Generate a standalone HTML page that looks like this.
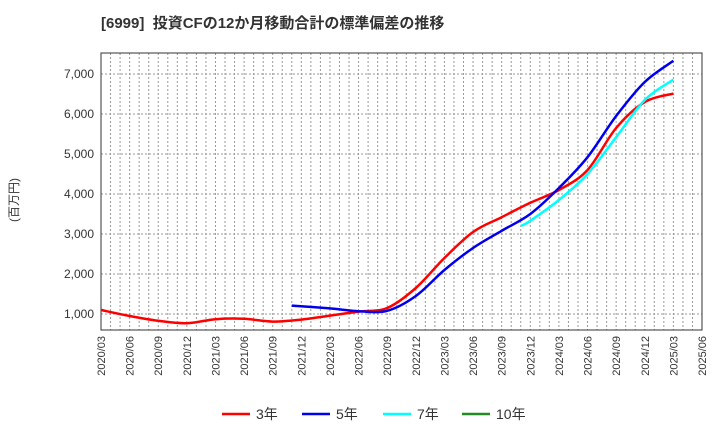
<!DOCTYPE html>
<html><head><meta charset="utf-8"><style>
body{margin:0;background:#fff;font-family:"Liberation Sans","Noto Sans CJK JP",sans-serif;}
svg text{font-family:"Liberation Sans","Noto Sans CJK JP",sans-serif;}
</style></head><body>
<svg id="c" width="720" height="440" xmlns="http://www.w3.org/2000/svg">
<text x="101" y="28" font-size="15" font-weight="bold" fill="#333" xml:space="preserve">[6999]  投資CFの12か月移動合計の標準偏差の推移</text>
<text transform="translate(18,200) rotate(-90)" font-size="12" fill="#333" text-anchor="middle">(百万円)</text>
<g id="grid"></g><g id="axes"></g><g id="series"></g>
<g id="legend"></g>
</svg>
<script>
const yTicks=[1000,2000,3000,4000,5000,6000,7000];
const xTickLabels=["2020/03","2020/06","2020/09","2020/12","2021/03","2021/06","2021/09","2021/12","2022/03","2022/06","2022/09","2022/12","2023/03","2023/06","2023/09","2023/12","2024/03","2024/06","2024/09","2024/12","2025/03","2025/06"];
const dates3=["2020/03","2020/06","2020/09","2020/12","2021/03","2021/06","2021/09","2021/12","2022/03","2022/06","2022/09","2022/12","2023/03","2023/06","2023/09","2023/12","2024/03","2024/06","2024/09","2024/12","2025/03"];
const vals3=[1100,950,830,770,870,880,810,860,960,1060,1150,1650,2400,3050,3420,3780,4100,4600,5650,6300,6510];
const dates5=["2021/11","2022/03","2022/06","2022/09","2022/12","2023/03","2023/06","2023/09","2023/12","2024/03","2024/06","2024/09","2024/12","2025/03"];
const vals5=[1210,1140,1070,1080,1450,2100,2650,3080,3500,4150,4920,5950,6800,7330];
const dates7=["2023/11","2023/12","2024/03","2024/06","2024/09","2024/12","2025/03"];
const vals7=[3200,3330,3850,4500,5420,6350,6860];
const dates10=[];
const vals10=[];
const L=101,R=702,T=53,B=330;
function mIdx(d){const [y,m]=d.split("/").map(Number);return (y-2020)*12+(m-3);}
function X(d){return L+mIdx(d)*(R-L)/63;}
function Y(v){return 314-(v-1000)*0.04;}
const NS="http://www.w3.org/2000/svg";
function mk(t,a,p){const e=document.createElementNS(NS,t);for(const k in a)e.setAttribute(k,a[k]);p.appendChild(e);return e;}
const grid=document.getElementById("grid"),axes=document.getElementById("axes"),ser=document.getElementById("series"),leg=document.getElementById("legend");
for(let m=1;m<63;m++){const x=L+m*(R-L)/63;
const g=mk("line",{x1:x,x2:x,y1:T,y2:B,stroke:"#999","stroke-dasharray":"2,2","stroke-width":1},grid);

}
yTicks.forEach(v=>{const y=Y(v);
const g=mk("line",{x1:L,x2:R,y1:y,y2:y,stroke:"#999","stroke-dasharray":"2,2","stroke-width":1},grid);


const t=mk("text",{x:L-7,y:y+4,"font-size":12,fill:"#333","text-anchor":"end"},axes);t.textContent=v.toLocaleString("en-US");

});
xTickLabels.forEach(d=>{const x=X(d);
const t=mk("text",{transform:`translate(${x+4},336) rotate(-90)`,"font-size":11,fill:"#333","text-anchor":"end"},axes);t.textContent=d;

});
const fr=mk("rect",{x:L,y:T,width:R-L,height:B-T,fill:"none",stroke:"#333","stroke-width":1},axes);


function path(ds,vs){const p=ds.map((d,i)=>[X(d),Y(vs[i])]);if(p.length<2)return "";let s=`M${p[0][0]},${p[0][1]}`;
for(let i=0;i<p.length-1;i++){const p0=p[Math.max(0,i-1)],p1=p[i],p2=p[i+1],p3=p[Math.min(p.length-1,i+2)];
const c1=[p1[0]+(p2[0]-p0[0])/6,p1[1]+(p2[1]-p0[1])/6],c2=[p2[0]-(p3[0]-p1[0])/6,p2[1]-(p3[1]-p1[1])/6];
s+=`C${c1[0]},${c1[1]} ${c2[0]},${c2[1]} ${p2[0]},${p2[1]}`;}return s;}
const S=[[dates3,vals3,"#ff0000","3年","series-3yr"],[dates5,vals5,"#0000ee","5年","series-5yr"],[dates7,vals7,"#00ffff","7年","series-7yr"],[dates10,vals10,"#228b22","10年","series-10yr"]];
const lx=[222,302,383,462];
S.forEach((s,i)=>{if(s[0].length>1){const e=mk("path",{d:path(s[0],s[1]),fill:"none",stroke:s[2],"stroke-width":2.5},ser);

}
const l=mk("line",{x1:lx[i],x2:lx[i]+28,y1:414,y2:414,stroke:s[2],"stroke-width":2.5},leg);


const t=mk("text",{x:lx[i]+34,y:419,"font-size":14,fill:"#333"},leg);t.textContent=s[3];

});
</script>
</body></html>
